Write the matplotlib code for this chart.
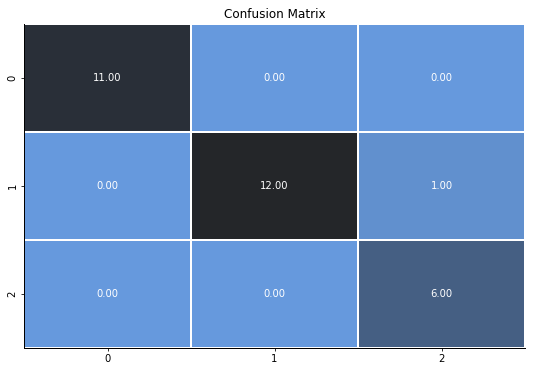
import matplotlib
matplotlib.use("Agg")
import matplotlib.pyplot as plt
import seaborn as sns
import numpy as np

labels = ["0", "1", "2"]
row0 = [11, 0, 0]
row1 = [0, 12, 1]
row2 = [0, 0, 6]
matrix = np.array([row0, row1, row2], dtype=float)

fig = plt.figure(figsize=(533/72, 373/72), dpi=72)
ax = fig.add_axes([24/533, 1 - 348/373, (525-24)/533, (348-24)/373])
cmap = sns.dark_palette("#69d", reverse=True, as_cmap=True)
sns.heatmap(matrix, annot=True, fmt=".2f", cmap=cmap, linewidths=2, linecolor="white",
            cbar=False, ax=ax, xticklabels=labels, yticklabels=labels, vmin=0, vmax=12,
            annot_kws={"fontsize": 10, "color": "white"})
for s in ["left", "bottom"]:
    ax.spines[s].set_visible(True)
    ax.spines[s].set_color("black")
    ax.spines[s].set_linewidth(1)
ax.tick_params(axis="both", length=3, labelsize=10)
ax.set_title("Confusion Matrix", fontsize=12)
fig.savefig("out.png", dpi=72)
